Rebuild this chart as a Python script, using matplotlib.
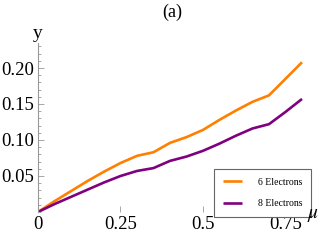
import numpy as np
import matplotlib
matplotlib.use("Agg")
import matplotlib.pyplot as plt
from matplotlib.ticker import FixedLocator, MultipleLocator

# values
mu = [0.0, 0.05, 0.10, 0.15, 0.20, 0.25, 0.30, 0.35, 0.40,
      0.45, 0.50, 0.55, 0.60, 0.65, 0.70, 0.75, 0.80]
y_6e = [0.0, 0.015, 0.029, 0.043, 0.056, 0.068, 0.078, 0.083, 0.096,
        0.104, 0.114, 0.128, 0.141, 0.153, 0.162, 0.185, 0.208]
y_8e = [0.0, 0.011, 0.021, 0.031, 0.041, 0.050, 0.057, 0.061, 0.071,
        0.077, 0.085, 0.095, 0.106, 0.116, 0.122, 0.139, 0.157]
labels = ["6 Electrons", "8 Electrons"]
x_ticks = [0, 0.25, 0.5, 0.75]
x_ticklabels = ["0", "0.25", "0.5", "0.75"]
y_ticks = [0.05, 0.10, 0.15, 0.20]
y_ticklabels = ["0.05", "0.10", "0.15", "0.20"]

W, H = 332, 240
fig = plt.figure(figsize=(W / 100, H / 100), dpi=100)
plt.rcParams["font.family"] = ["Liberation Serif", "DejaVu Serif"]
plt.rcParams["mathtext.fontset"] = "stix"

# axes box in pixels: origin at (38, 212), 330 px per unit x, 720 px per unit y
xmax, ymax = 0.82, 0.235
left, bottom = 38, H - 212
ax = fig.add_axes([left / W, bottom / H, xmax * 330 / W, ymax * 720 / H])

orange = (1.0, 0.5, 0.0)
purple = (0.5, 0.0, 0.5)
ax.plot(mu, y_6e, color=orange, lw=1.9, label=labels[0], solid_capstyle="butt")
ax.plot(mu, y_8e, color=purple, lw=1.9, label=labels[1], solid_capstyle="butt")

ax.set_xlim(0, xmax)
ax.set_ylim(0, ymax)
for s in ("top", "right", "bottom"):
    ax.spines[s].set_visible(False)
ax.spines["left"].set_color("0.6")
ax.spines["left"].set_linewidth(0.8)

ax.xaxis.set_major_locator(FixedLocator(x_ticks))
ax.set_xticklabels(x_ticklabels)
ax.yaxis.set_major_locator(FixedLocator(y_ticks))
ax.set_yticklabels(y_ticklabels)
ax.yaxis.set_minor_locator(MultipleLocator(0.01))
ax.tick_params(which="both", direction="in", color="0.6", width=0.6,
               labelsize=13.5)
ax.tick_params(which="major", length=4, pad=3)
ax.tick_params(which="minor", length=2)
ax.tick_params(axis="y", pad=3)

fig.text(172 / W, 1 - 12 / H, "(a)", ha="center", va="center", fontsize=13)
fig.text(38 / W, 1 - 33 / H, "y", ha="center", va="center", fontsize=14)
fig.text(313 / W, 1 - 215 / H, r"$\mu$", ha="center", va="center", fontsize=14)

leg = ax.legend(loc="upper left", bbox_to_anchor=(214 / W, 1 - 169 / H),
                bbox_transform=fig.transFigure, borderaxespad=0,
                fontsize=7, fancybox=False, framealpha=1, edgecolor="0.4",
                handlelength=2.0, handletextpad=1.6, labelspacing=1.3,
                borderpad=0.9)
leg.get_frame().set_linewidth(0.8)

fig.savefig("out.png", dpi=100)
